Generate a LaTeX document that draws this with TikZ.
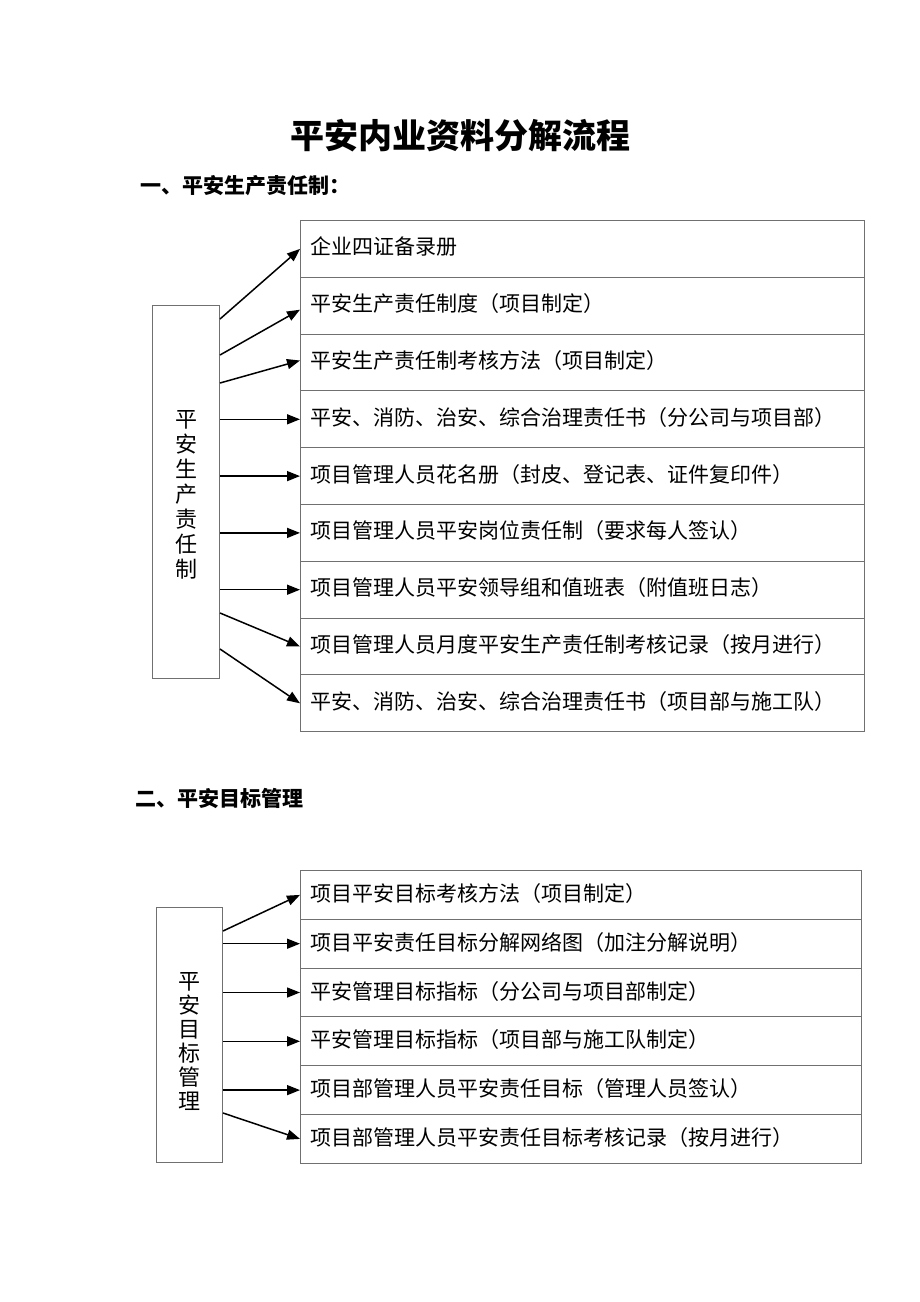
\documentclass[tikz,border=0pt]{standalone}
\usepackage{fontspec}
\setmainfont{Noto Sans CJK SC}
\usetikzlibrary{
    arrows.meta,
    positioning,
}
\definecolor{frame}{HTML}{707070}
\tikzset{
    rownode/.style={
            draw=frame,
            line width=1pt,
            anchor=north west,
            text width=544pt,
            inner xsep=10pt,
            inner ysep=0pt,
            align=left,
            font=\fontsize{21}{24}\selectfont,
        }
}
\tikzset{
    sidenode/.style={
            draw=frame,
            line width=1pt,
            anchor=north west,
            inner sep=0pt,
        }
}
\tikzset{
    arr/.style={
            line width=1.5pt,
            -{Triangle[length=13pt,width=10pt]},
        }
}
\tikzset{
    headnode/.style={
            anchor=west,
            inner sep=0pt,
            font=\fontsize{21}{24}\selectfont\bfseries,
        }
}

\begin{document}
\begin{tikzpicture}[x=1pt,y=-1pt]
    \useasboundingbox (0,0) rectangle (920,1302);

    % title
    \node[
        inner sep=0pt,
        font=\fontsize{34}{40}\selectfont\bfseries,
    ] (T) at (460,136) {平安内业资料分解流程};

    % headings
    \node[headnode] (H1) at (140,186) {一、平安生产责任制：};
    \node[headnode] (H2) at (135,798) {二、平安目标管理};

    % first list
    \foreach \i/\l in {
            1/企业四证备录册,
            2/平安生产责任制度（项目制定）,
            3/平安生产责任制考核方法（项目制定）,
            4/平安、消防、治安、综合治理责任书（分公司与项目部）,
            5/项目管理人员花名册（封皮、登记表、证件复印件）,
            6/项目管理人员平安岗位责任制（要求每人签认）,
            7/项目管理人员平安领导组和值班表（附值班日志）,
            8/项目管理人员月度平安生产责任制考核记录（按月进行）,
            9/平安、消防、治安、综合治理责任书（项目部与施工队）
        }
        {
            \node[
                rownode,
                minimum height=56.8pt,
                text depth=6pt,
            ] (A-\i) at (300,{220+(\i-1)*56.8}) {\l};
        }

    % first side box
    \node[
        sidenode,
        minimum width=67pt,
        minimum height=373pt,
    ] (LA) at (152,305) {};
    \node[
        align=center,
        font=\fontsize{22}{25}\selectfont,
    ] (LAt) at ([yshift=-3pt]LA.center) {平\\安\\生\\产\\责\\任\\制};

    % side box -> first list
    \draw[arr] ([yshift=-14pt]LA.north east) -- (A-1.west);
    \draw[arr] ([yshift=-50pt]LA.north east) -- ([yshift=-4pt]A-2.west);
    \draw[arr] ([yshift=-78pt]LA.north east) -- ([yshift=2pt]A-3.west);
    \foreach \i in {4,5,6,7} \draw[arr] (LA.east |- A-\i.west) -- (A-\i.west);
    \draw[arr] ([yshift=66pt]LA.south east) -- (A-8.west);
    \draw[arr] ([yshift=30pt]LA.south east) -- (A-9.west);

    % second list
    \foreach \i/\l in {
            1/项目平安目标考核方法（项目制定）,
            2/项目平安责任目标分解网络图（加注分解说明）,
            3/平安管理目标指标（分公司与项目部制定）,
            4/平安管理目标指标（项目部与施工队制定）,
            5/项目部管理人员平安责任目标（管理人员签认）,
            6/项目部管理人员平安责任目标考核记录（按月进行）
        }
        {
            \node[
                rownode,
                text width=541pt,
                minimum height=48.8pt,
                text depth=5pt,
            ] (B-\i) at (300,{870+(\i-1)*48.8}) {\l};
        }

    % second side box
    \node[
        sidenode,
        minimum width=66pt,
        minimum height=255pt,
    ] (LB) at (156,907) {};
    \node[
        align=center,
        font=\fontsize{22}{24}\selectfont,
    ] (LBt) at ([yshift=-6pt]LB.center) {平\\安\\目\\标\\管\\理};

    % side box -> second list
    \draw[arr] ([yshift=-24pt]LB.north east) -- (B-1.west);
    \foreach \i in {2,3,4,5} \draw[arr] (LB.east |- B-\i.west) -- (B-\i.west);
    \draw[arr] ([yshift=50pt]LB.south east) -- (B-6.west);
\end{tikzpicture}
\end{document}
